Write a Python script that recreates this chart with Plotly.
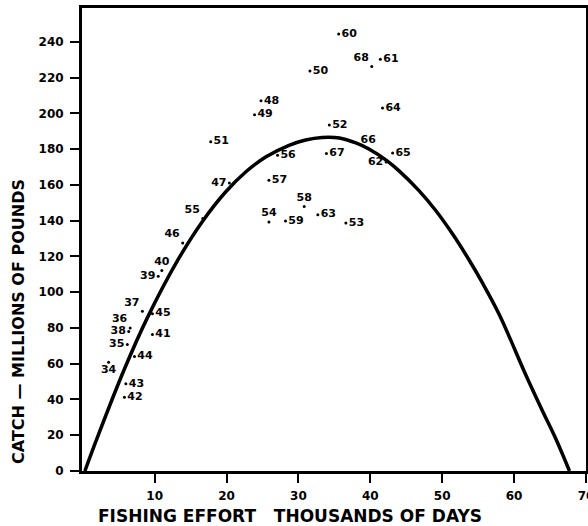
import plotly.graph_objects as go

# ---- data ----
years = ["60", "68", "61", "50", "48", "49", "64", "52", "51", "66", "67", "65",
         "62", "56", "47", "57", "58", "55", "54", "59", "63", "53", "46", "40",
         "39", "37", "45", "36", "38", "41", "35", "44", "34", "43", "42"]
effort = [35.6, 40.2, 41.4, 31.6, 24.8, 23.9, 41.7, 34.3, 17.8, 39.7, 33.9, 43.1,
          42.2, 27.1, 20.4, 25.9, 30.8, 16.7, 25.9, 28.2, 32.7, 36.6, 13.9, 11.0,
          10.5, 8.3, 9.7, 6.6, 6.4, 9.7, 6.2, 7.2, 3.6, 6.0, 5.8]
catch = [244.4, 226.3, 230.4, 223.7, 207.1, 199.3, 203.0, 193.5, 184.2, 180.5, 177.6, 177.9,
         172.9, 176.6, 161.1, 162.6, 148.0, 141.2, 139.3, 139.8, 143.4, 138.7, 127.5, 112.2,
         108.9, 89.4, 88.0, 80.0, 78.1, 76.4, 70.8, 64.1, 60.9, 48.8, 41.3]

# fitted yield curve
curve_effort = [0.3, 2.0, 5.7, 9.0, 13.3, 16.7, 19.9, 22.7, 25.5, 28.7, 31.0, 33.3,
                35.7, 38.0, 39.8, 42.2, 44.0, 46.8, 49.1, 51.4, 53.7, 55.6, 58.0,
                61.6, 63.9, 65.8, 67.7]
curve_catch = [0, 18.4, 56.1, 85.8, 118.5, 139.9, 156.2, 167.4, 175.8, 182.2, 185.2, 186.6,
               186.3, 183.5, 180.1, 173.9, 167.9, 156.7, 145.7, 132.8, 118.3, 105.2, 87.0,
               54.0, 34.0, 18.0, 0]

x_ticks = [10, 20, 30, 40, 50, 60, 70]
y_ticks = [0, 20, 40, 60, 80, 100, 120, 140, 160, 180, 200, 220, 240]

# label placement (style)
label_pos = ["middle right", "top left", "middle right", "middle right", "middle right",
             "middle right", "middle right", "middle right", "middle right", "top center",
             "middle right", "middle right", "middle left", "middle right", "middle left",
             "middle right", "top center", "top left", "top center", "middle right",
             "middle right", "middle right", "top left", "top center", "middle left",
             "top left", "middle right", "top left", "middle left", "middle right",
             "middle left", "middle right", "bottom center", "middle right", "middle right"]

FONT = "DejaVu Sans"

fig = go.Figure()
fig.add_trace(go.Scatter(
    x=curve_effort, y=curve_catch, mode="lines",
    line=dict(color="black", width=3.5, shape="spline", smoothing=1.0),
    hoverinfo="skip", showlegend=False))
fig.add_trace(go.Scatter(
    x=effort, y=catch, mode="markers+text", text=years,
    textposition=label_pos,
    textfont=dict(family=FONT, size=11, color="black", weight="bold"),
    marker=dict(color="black", size=3),
    showlegend=False))

axis_common = dict(showgrid=False, zeroline=False, showline=True, linecolor="black",
                   linewidth=3, mirror=True, ticks="outside", ticklen=9, tickwidth=2,
                   tickcolor="black", automargin=False,
                   tickfont=dict(family=FONT, size=12, color="black", weight="bold"))

fig.update_xaxes(range=[-0.1, 70.0], tickvals=x_ticks, ticklabeloverflow="allow",
                 ticklabelstandoff=3, **axis_common)
fig.update_yaxes(range=[0, 259], tickvals=y_ticks, ticklabelstandoff=4, **axis_common)

fig.add_annotation(text="FISHING EFFORT\u00a0\u00a0\u00a0THOUSANDS OF DAYS",
                   xref="paper", yref="paper", x=(290 - 82) / 504, y=-(516 - 471) / 463,
                   xanchor="center", yanchor="middle", showarrow=False,
                   font=dict(family=FONT, size=17, color="black", weight="bold"))
fig.add_annotation(text="CATCH — MILLIONS OF POUNDS",
                   xref="paper", yref="paper", x=-(82 - 18) / 504, y=(471 - 322) / 463,
                   xanchor="center", yanchor="middle", showarrow=False, textangle=-90,
                   font=dict(family=FONT, size=16, color="black", weight="bold"))

fig.update_layout(width=588, height=526, margin=dict(l=82, r=2, t=8, b=55),
                  paper_bgcolor="white", plot_bgcolor="white")

fig.write_html("out.html", config={"displayModeBar": False},
               post_script="document.body.style.margin='0';document.body.style.overflow='hidden';")
